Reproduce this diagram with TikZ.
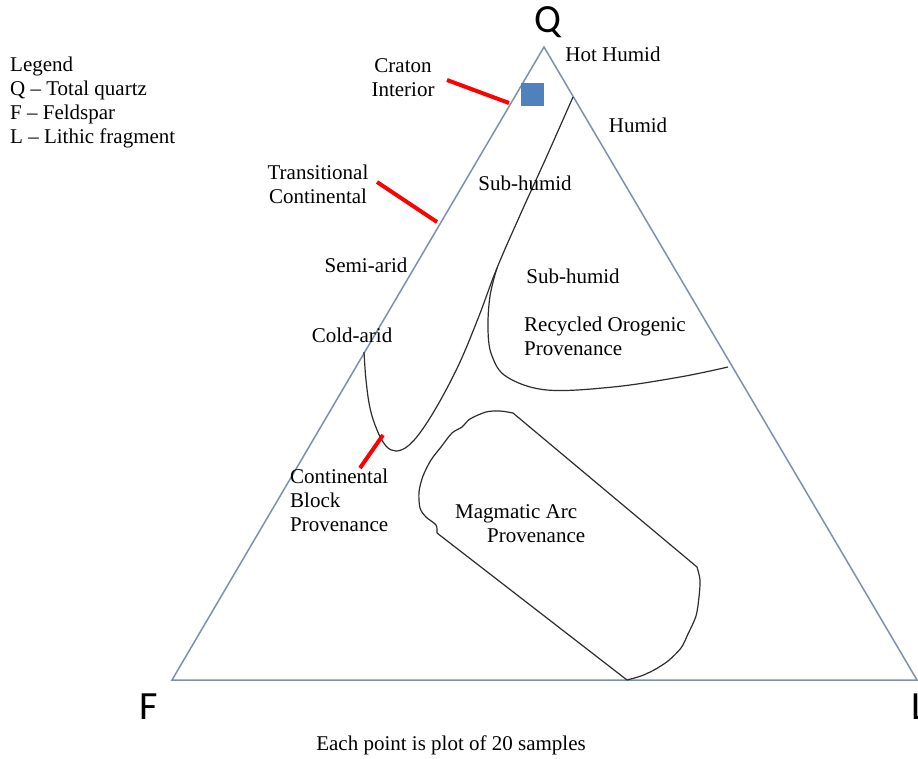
\documentclass[tikz,border=0pt]{standalone}
\usepackage{fontspec}
\setmainfont{Liberation Serif}
\newfontfamily\vfont{Carlito}
\definecolor{edgeblue}{RGB}{125,145,175}
\definecolor{sqblue}{RGB}{79,129,189}
\definecolor{curvegray}{RGB}{45,45,45}
\tikzset{
  lbl/.style={font=\fontsize{21}{24}\selectfont, inner sep=0pt},
  vert/.style={font=\vfont\fontsize{40}{40}\selectfont, inner sep=0pt},
  tri/.style={draw=edgeblue, line width=1.5pt, line join=miter},
  bound/.style={draw=curvegray, line width=1.2pt},
  pointer/.style={draw=red, line width=4pt},
}
\begin{document}
\begin{tikzpicture}[x=1pt,y=-1pt]
\useasboundingbox[fill=white] (0,0) rectangle (918,758);
% triangle
\coordinate (Qv) at (544,47);
\coordinate (Fv) at (172,680);
\coordinate (Lv) at (917,680);
\draw[tri] (Qv) -- (Fv) -- (Lv) -- cycle;
\node[vert] (Q) at (548,22) {Q};
\node[vert] (F) at (149,707) {F};
\node[vert, anchor=west] (L) at (911,707) {L};
% boundaries
\draw[bound] plot[smooth, tension=0.6] coordinates {(364,352) (366,380) (370,408) (377,430) (386,446) (396,451) (408,446) (422,430) (440,401) (460,362) (479,316) (497,268) (521,213) (546,158) (573,97)};
\draw[bound] plot[smooth, tension=0.6] coordinates {(497,268) (490,296) (488,330) (492,356) (507,377) (547,390) (613,387) (680,377) (728,367)};
% magmatic arc field
\draw[bound] (437,533) -- (627,680)
  plot[smooth, tension=0.5] coordinates {(627,680) (641,676) (654,670) (668,661) (681,648) (688,634) (696,616) (699,597) (700,580) (697,567)}
  -- (513,413)
  plot[smooth, tension=0.5] coordinates {(513,413) (500,411) (486,412) (470,419) (462,427) (452,433) (441,447) (431,460) (423,476) (419,492) (420,508) (426,517) (436,525) (437,533)};
% craton square
\fill[sqblue] (521,83) rectangle (544,106);
% red pointers
\coordinate (c1) at (447,80);  \coordinate (c2) at (509,103);
\coordinate (t1) at (377,182); \coordinate (t2) at (437,222);
\coordinate (b1) at (383,435); \coordinate (b2) at (360,468);
\draw[pointer] (c1) -- (c2);
\draw[pointer] (t1) -- (t2);
\draw[pointer] (b1) -- (b2);
% legend
\node[lbl, anchor=west] (leg0) at (10,66) {Legend};
\node[lbl, anchor=west] (leg1) at (10,90) {Q – Total quartz};
\node[lbl, anchor=west] (leg2) at (10,114) {F – Feldspar};
\node[lbl, anchor=west] (leg3) at (10,138) {L – Lithic fragment};
% labels
\node[lbl, align=center] (craton) at (403,78) {Craton\\Interior};
\node[lbl] (hothumid) at (613,54) {Hot Humid};
\node[lbl] (humid) at (638,125) {Humid};
\node[lbl] (subhumid1) at (525,183) {Sub-humid};
\node[lbl, align=center] (trans) at (318,184) {Transitional\\Continental};
\node[lbl] (semiarid) at (366,265) {Semi-arid};
\node[lbl] (subhumid2) at (573,276) {Sub-humid};
\node[lbl] (coldarid) at (352,335) {Cold-arid};
\node[lbl, align=left, anchor=west] (recycled) at (524,336) {Recycled Orogenic\\Provenance};
\node[lbl, align=left, anchor=west] (contblock) at (290,500) {Continental\\Block\\Provenance};
\node[lbl, align=left, anchor=west] (magmatic) at (455,524) {Magmatic Arc\\\hspace*{32pt}Provenance};
\node[lbl] (caption) at (451,745) {Each point is plot of 20 samples};
\end{tikzpicture}
\end{document}
